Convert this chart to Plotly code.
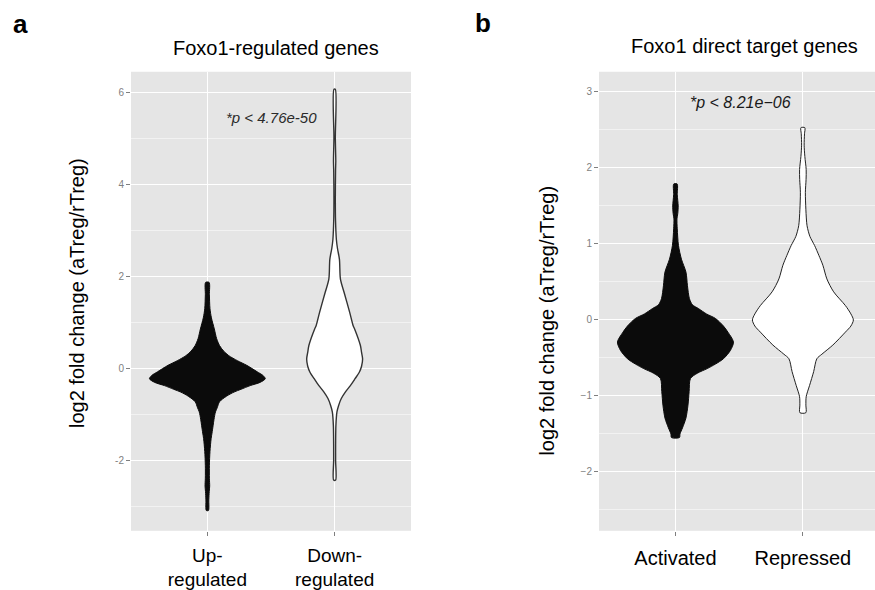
import plotly.graph_objects as go

# ---------------- data ----------------
cats_a = ["Up-<br>regulated", "Down-<br>regulated"]
cats_b = ["Activated", "Repressed"]

title_a = "Foxo1-regulated genes"
title_b = "Foxo1 direct target genes"
ylabel = "log2 fold change (aTreg/rTreg)"
pval_a = "*p < 4.76e-50"
pval_b = "*p < 8.21e\u221206"

yticks_a = [6, 4, 2, 0, -2]
yticklabels_a = ["6", "4", "2", "0", "-2"]
yticks_b = [3, 2, 1, 0, -1, -2]
yticklabels_b = ["3", "2", "1", "0", "\u22121", "\u22122"]

# violin outlines: log2 fold change values and relative (area-scaled) density
up_y = [1.87, 1.60, 1.30, 1.10, 0.86, 0.65, 0.50, 0.38, 0.28, 0.17, 0.07, -0.07, -0.15, -0.22,
        -0.30, -0.37, -0.45, -0.51, -0.60, -0.72, -0.85, -0.94, -1.10, -1.23, -1.40, -1.52,
        -1.80, -2.10, -2.38, -2.55, -2.67, -2.85, -3.08]
up_d = [0.03, 0.035, 0.045, 0.07, 0.12, 0.16, 0.21, 0.28, 0.37, 0.52, 0.68, 0.86, 0.96, 1.00,
        0.91, 0.74, 0.58, 0.46, 0.33, 0.21, 0.17, 0.14, 0.115, 0.10, 0.08, 0.065,
        0.045, 0.035, 0.035, 0.04, 0.032, 0.025, 0.018]

down_y = [6.06, 5.00, 4.50, 4.30, 3.66, 3.20, 2.80, 2.60, 2.37, 1.94, 1.65, 1.22, 0.93, 0.86,
          0.50, 0.35, 0.21, 0.05, -0.08, -0.22, -0.37, -0.50, -0.65, -0.80, -0.94, -1.23,
          -1.66, -2.00, -2.42]
down_d = [0.012, 0.012, 0.02, 0.016, 0.012, 0.016, 0.03, 0.05, 0.083, 0.10, 0.164, 0.26, 0.32, 0.345,
          0.445, 0.465, 0.483, 0.465, 0.426, 0.353, 0.272, 0.19, 0.115, 0.069, 0.04, 0.022,
          0.017, 0.017, 0.017]

act_y = [1.79, 1.65, 1.50, 1.40, 1.33, 1.20, 0.98, 0.80, 0.63, 0.45, 0.28, 0.20, 0.15, 0.08,
         0.02, -0.08, -0.16, -0.29, -0.40, -0.51, -0.58, -0.64, -0.70, -0.77, -0.94, -1.12,
         -1.29, -1.42, -1.50, -1.547]
act_d = [0.029, 0.031, 0.047, 0.04, 0.026, 0.031, 0.052, 0.103, 0.181, 0.207, 0.241, 0.293, 0.397, 0.534,
         0.69, 0.828, 0.905, 1.00, 0.948, 0.828, 0.69, 0.547, 0.379, 0.259, 0.236, 0.216,
         0.181, 0.121, 0.078, 0.069]

rep_y = [2.53, 2.45, 2.30, 2.15, 1.98, 1.85, 1.68, 1.45, 1.24, 1.10, 0.98, 0.85, 0.72, 0.54,
         0.37, 0.19, 0.08, 0.00, -0.08, -0.16, -0.33, -0.45, -0.51, -0.68, -0.86, -1.01,
         -1.12, -1.22]
rep_d = [0.034, 0.028, 0.022, 0.034, 0.057, 0.055, 0.043, 0.052, 0.072, 0.121, 0.202, 0.276, 0.345, 0.414,
         0.531, 0.733, 0.828, 0.871, 0.828, 0.733, 0.517, 0.328, 0.241, 0.186, 0.116, 0.057,
         0.052, 0.052]

# ---------------- styling ----------------
FONT = "Liberation Sans, Arial, Helvetica, sans-serif"
BG = "#E5E5E5"
MAXHW = 0.455  # violin half-width for the maximum density


def outline(center, ys, ds):
    xs = [center + d * MAXHW for d in ds] + [center - d * MAXHW for d in reversed(ds)]
    yy = list(ys) + list(reversed(ys))
    xs.append(xs[0])
    yy.append(yy[0])
    return xs, yy


fig = go.Figure()

specs = [
    ("x", "y", 1, up_y, up_d, "#0b0b0b", "#0b0b0b", 1.0),
    ("x", "y", 2, down_y, down_d, "#ffffff", "#333333", 1.4),
    ("x2", "y2", 1, act_y, act_d, "#0b0b0b", "#0b0b0b", 1.0),
    ("x2", "y2", 2, rep_y, rep_d, "#ffffff", "#222222", 1.0),
]
for xa, ya, c, ys, ds, fillc, linec, lw in specs:
    xs, yy = outline(c, ys, ds)
    fig.add_trace(go.Scatter(
        x=xs, y=yy, xaxis=xa, yaxis=ya, mode="lines", fill="toself",
        fillcolor=fillc, line=dict(color=linec, width=lw, shape="spline", smoothing=0.8),
        hoverinfo="skip", showlegend=False))

W, H = 875, 590
ydom = [1 - 532.6 / H, 1 - 72 / H]

common_x = dict(
    range=[0.4, 2.6], tickmode="array", tickvals=[1, 2],
    showgrid=True, gridcolor="#FFFFFF", gridwidth=1.2, zeroline=False, showline=False,
    ticks="outside", ticklen=4, tickcolor="#7F7F7F", tickwidth=1,
    tickfont=dict(family=FONT, size=19, color="#000000"), fixedrange=True,
)
common_y = dict(
    tickmode="array", showgrid=True, gridcolor="#FFFFFF", gridwidth=1.2,
    zeroline=False, showline=False, ticks="outside", ticklen=4, tickcolor="#7F7F7F",
    tickwidth=1, tickfont=dict(family=FONT, size=10, color="#7F7F7F"), fixedrange=True,
)

fig.update_layout(
    width=W, height=H, margin=dict(l=0, r=0, t=0, b=0),
    paper_bgcolor="#FFFFFF", plot_bgcolor=BG,
    xaxis=dict(common_x, domain=[131 / W, 411 / W], ticktext=cats_a, anchor="y",
               ticklabelstandoff=3),
    yaxis=dict(common_y, domain=ydom, range=[-3.52, 6.44], tickvals=yticks_a,
               ticktext=yticklabels_a, anchor="x",
               minor=dict(tickmode="array", tickvals=[5, 3, 1, -1, -3], showgrid=True,
                          gridcolor="#F2F2F2", gridwidth=0.8, ticks="")),
    xaxis2=dict(common_x, domain=[599 / W, 1.0], range=[0.4, 2.566], ticktext=cats_b,
                anchor="y2", tickfont=dict(family=FONT, size=20, color="#000000"),
                ticklabelstandoff=5),
    yaxis2=dict(common_y, domain=ydom, range=[-2.774, 3.266], tickvals=yticks_b,
                ticktext=yticklabels_b, anchor="x2",
                minor=dict(tickmode="array", tickvals=[2.5, 1.5, 0.5, -0.5, -1.5, -2.5],
                           showgrid=True, gridcolor="#F2F2F2", gridwidth=0.8, ticks="")),
)

ann = []
# panel letters
ann.append(dict(text="<b>a</b>", x=20.5 / W, y=1 - 24 / H, font=dict(size=26)))
ann.append(dict(text="<b>b</b>", x=483 / W, y=1 - 23 / H, font=dict(size=26)))
# titles
ann.append(dict(text=title_a, x=275.5 / W, y=1 - 47.7 / H, font=dict(size=20)))
ann.append(dict(text=title_b, x=744 / W, y=1 - 45.7 / H, font=dict(size=20)))
# y axis titles
ann.append(dict(text=ylabel, x=77 / W, y=1 - 294 / H, textangle=-90, font=dict(size=20)))
ann.append(dict(text=ylabel, x=547 / W, y=1 - 321.7 / H, textangle=-90, font=dict(size=20)))
for a in ann:
    a.update(xref="paper", yref="paper", showarrow=False, xanchor="center", yanchor="middle")
    a["font"].update(family=FONT, color="#000000")

# p-values in data coordinates
ann.append(dict(text="<i>" + pval_a + "</i>", x=1.507, y=5.44, xref="x", yref="y",
                showarrow=False, font=dict(family=FONT, size=15, color="#2a2a2a")))
ann.append(dict(text="<i>" + pval_b + "</i>", x=1.513, y=2.855, xref="x2", yref="y2",
                showarrow=False, font=dict(family=FONT, size=16, color="#1a1a1a")))

fig.update_layout(annotations=ann)
fig.write_html("out.html")
